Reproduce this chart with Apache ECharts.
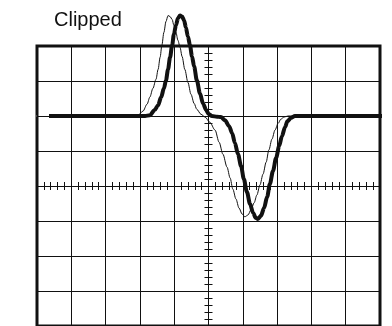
<!DOCTYPE html>
<html>
<head>
<meta charset="utf-8">
<script src="https://cdn.jsdelivr.net/npm/echarts@6/dist/echarts.min.js"></script>
<style>
  html, body { margin: 0; padding: 0; background: #fff; }
  #chart { width: 392px; height: 326px; }
</style>
</head>
<body>
<div id="chart"></div>
<script>
  // screen is 10 x 8 divisions, centre at (0,0)
  const xMin = -5, xMax = 5
  const yMin = -4, yMax = 4

  // clipped (thick) trace, in divisions
  const thickTrace = [
    [-4.65, 2.0], [-1.85, 2.0], [-1.71, 2.02], [-1.57, 2.17], [-1.47, 2.31],
    [-1.38, 2.54], [-1.30, 2.79], [-1.24, 3.02], [-1.18, 3.33], [-1.12, 3.68],
    [-1.06, 4.02], [-1.01, 4.33], [-0.95, 4.59], [-0.89, 4.79], [-0.83, 4.87],
    [-0.77, 4.84], [-0.71, 4.73], [-0.66, 4.53], [-0.60, 4.27], [-0.54, 4.02],
    [-0.48, 3.70], [-0.42, 3.42], [-0.34, 3.02], [-0.25, 2.65], [-0.16, 2.36],
    [-0.07, 2.17], [0.01, 2.05], [0.10, 2.0], [0.25, 1.98], [0.36, 1.97],
    [0.48, 1.88], [0.60, 1.71], [0.69, 1.51], [0.77, 1.23], [0.86, 0.91],
    [0.95, 0.57], [1.03, 0.20], [1.12, -0.17], [1.21, -0.51], [1.30, -0.77],
    [1.38, -0.91], [1.44, -0.94], [1.53, -0.85], [1.62, -0.63], [1.71, -0.31],
    [1.79, 0.06], [1.88, 0.43], [1.97, 0.80], [2.06, 1.14], [2.14, 1.42],
    [2.23, 1.68], [2.30, 1.85], [2.41, 1.95], [2.52, 2.0], [5.35, 2.0]
  ]

  // reference (thin) trace
  const thinTrace = [
    [-4.65, 2.0], [-2.20, 2.0], [-2.06, 2.02], [-1.91, 2.14], [-1.79, 2.34],
    [-1.71, 2.54], [-1.62, 2.79], [-1.53, 3.05], [-1.47, 3.33], [-1.41, 3.68],
    [-1.36, 4.02], [-1.30, 4.39], [-1.24, 4.70], [-1.18, 4.87], [-1.12, 4.84],
    [-1.06, 4.76], [-1.01, 4.59], [-0.95, 4.39], [-0.89, 4.16], [-0.83, 3.96],
    [-0.77, 3.70], [-0.69, 3.33], [-0.60, 2.96], [-0.51, 2.62], [-0.42, 2.36],
    [-0.34, 2.19], [-0.22, 2.05], [-0.10, 1.97], [0.04, 1.82], [0.19, 1.60],
    [0.31, 1.25], [0.42, 0.91], [0.54, 0.54], [0.63, 0.23], [0.71, -0.09],
    [0.80, -0.37], [0.89, -0.63], [0.98, -0.80], [1.06, -0.88], [1.15, -0.83],
    [1.24, -0.68], [1.33, -0.48], [1.41, -0.26], [1.50, 0.03], [1.59, 0.34],
    [1.68, 0.68], [1.76, 1.03], [1.85, 1.34], [1.94, 1.60], [2.03, 1.79],
    [2.11, 1.91], [2.20, 1.97], [2.32, 2.0], [5.35, 2.0]
  ]

  // ground level marker left of the screen
  const groundMarker = [[-5.76, 2.0], [-5.0, 2.0]]

  const chart = echarts.init(document.getElementById('chart'), null, { renderer: 'canvas' })

  const ink = '#111'

  function centreAxis(extra) {
    return Object.assign({
      type: 'value',
      interval: 1,
      axisLabel: { show: false },
      splitLine: { show: false },
      axisLine: { show: true, onZero: true, onZeroAxisIndex: 0, lineStyle: { color: ink, width: 1 } },
      axisTick: { show: false, inside: false },
      minorTick: { show: true, splitNumber: 5, length: 4, lineStyle: { color: ink, width: 1 } }
    }, extra)
  }

  chart.setOption({
    animation: false,
    backgroundColor: '#fff',
    title: {
      text: 'Clipped',
      left: 54,
      top: 10,
      padding: 0,
      textStyle: {
        color: ink,
        fontSize: 20,
        fontWeight: 'normal',
        fontFamily: 'Liberation Sans, Arial, sans-serif'
      }
    },
    grid: {
      left: 37,
      right: 12,
      top: 46,
      bottom: -1,
      show: true,
      borderColor: ink,
      borderWidth: 3,
      backgroundColor: 'transparent'
    },
    xAxis: [
      centreAxis({
        min: xMin, max: xMax, position: 'bottom',
        splitLine: { show: true, lineStyle: { color: ink, width: 1 } }
      }),
      centreAxis({ min: xMin, max: xMax, position: 'top' })
    ],
    yAxis: [
      centreAxis({
        min: yMin, max: yMax, position: 'left',
        splitLine: { show: true, lineStyle: { color: ink, width: 1 } }
      }),
      centreAxis({ min: yMin, max: yMax, position: 'right' })
    ],
    series: [
      {
        type: 'line',
        data: groundMarker,
        symbol: 'none',
        clip: false,
        lineStyle: { color: '#777', width: 1 }
      },
      {
        type: 'line',
        data: thinTrace,
        symbol: 'none',
        smooth: 0.3,
        smoothMonotone: 'x',
        clip: false,
        lineStyle: { color: ink, width: 1 }
      },
      {
        type: 'line',
        data: thickTrace,
        symbol: 'none',
        smooth: 0.3,
        smoothMonotone: 'x',
        clip: false,
        lineStyle: { color: ink, width: 4 }
      }
    ]
  })
</script>
</body>
</html>
